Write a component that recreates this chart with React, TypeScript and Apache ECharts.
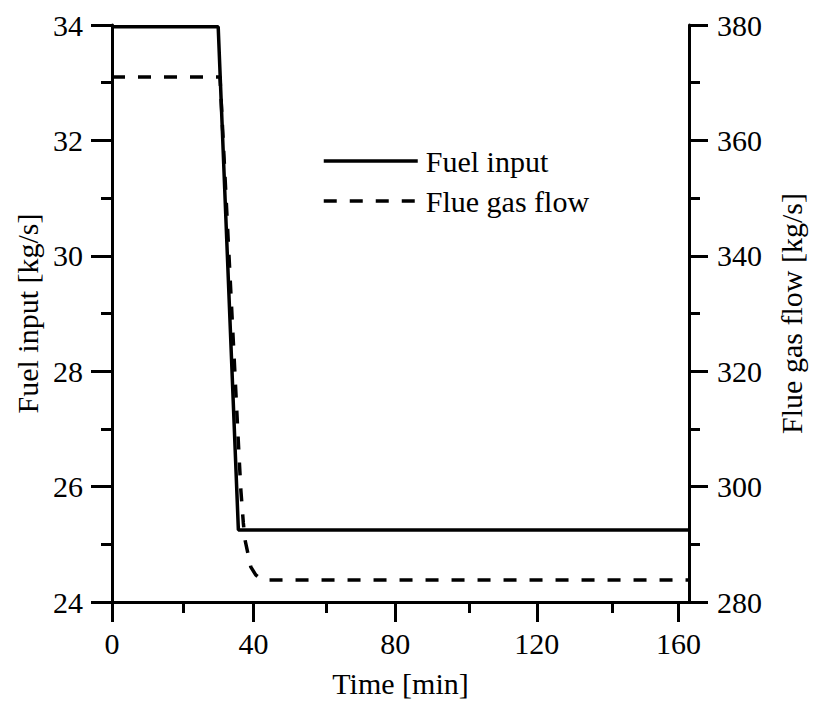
import React, { useEffect, useRef } from "react";
import * as echarts from "echarts";

const fuelTime = [0, 30.0, 35.7, 163];
const fuelInput = [33.97, 33.97, 25.25, 25.25];

const flueTime = [0, 30.5, 31.55, 32.97, 34.39, 35.8, 36.4, 37.1, 37.6, 38.5, 39.2, 40.6, 42.0, 43.5, 163];
const flueGas = [371, 371, 358.3, 341, 323.7, 306.4, 299.4, 293.7, 290.7, 288.1, 286.1, 284.7, 284.0, 283.8, 283.8];

const xMajorTicks = [0, 40, 80, 120, 160];
const xMinorTicks = [20, 60, 100, 140];

const FONT = "Liberation Serif";

export default function App() {
  const ref = useRef<HTMLDivElement>(null);
  useEffect(() => {
    document.body.style.margin = "0";
    const chart = echarts.init(ref.current!, null, { renderer: "svg" });
    const grid = { left: 112, right: 120, top: 25, bottom: 103 };
    const txt = { fontFamily: FONT, fontSize: 30, color: "#000" };
    const axisLine = { show: true, onZero: false, lineStyle: { color: "#000", width: 3 } };
    chart.setOption({
      animation: false,
      backgroundColor: "#fff",
      textStyle: { fontFamily: FONT },
      grid: [grid, grid],
      legend: {
        data: ["Fuel input", "Flue gas flow"],
        orient: "vertical",
        left: 317,
        top: 141,
        itemWidth: 94,
        itemHeight: 14,
        itemGap: 10,
        itemStyle: { opacity: 0 },
        lineStyle: { width: 3.5 },
        textStyle: { ...txt, padding: [0, 0, 0, 3] },
      },
      xAxis: [
        {
          type: "value",
          gridIndex: 0,
          min: 0,
          max: 163,
          interval: 40,
          name: "Time [min]",
          nameLocation: "middle",
          nameGap: 66,
          nameTextStyle: txt,
          axisLine,
          axisTick: { show: true, length: 20, lineStyle: { color: "#000", width: 3 }, customValues: xMajorTicks },
          axisLabel: { ...txt, margin: 26, customValues: xMajorTicks },
          splitLine: { show: false },
        },
        {
          type: "value",
          gridIndex: 1,
          min: 0,
          max: 163,
          axisLine: { show: false },
          axisTick: { show: true, length: 11, lineStyle: { color: "#000", width: 3 }, customValues: xMinorTicks },
          axisLabel: { show: false },
          splitLine: { show: false },
        },
      ],
      yAxis: [
        {
          type: "value",
          gridIndex: 0,
          position: "left",
          min: 24,
          max: 34,
          interval: 2,
          name: "Fuel input [kg/s]",
          nameLocation: "middle",
          nameRotate: 90,
          nameGap: 59,
          nameTextStyle: txt,
          axisLine,
          axisTick: { show: true, length: 21, lineStyle: { color: "#000", width: 3 } },
          minorTick: { show: true, splitNumber: 2, length: 11, lineStyle: { color: "#000", width: 3 } },
          axisLabel: { ...txt, margin: 29 },
          splitLine: { show: false },
          minorSplitLine: { show: false },
        },
        {
          type: "value",
          gridIndex: 0,
          position: "right",
          min: 280,
          max: 380,
          interval: 20,
          name: "Flue gas flow [kg/s]",
          nameLocation: "middle",
          nameRotate: 90,
          nameGap: 87,
          nameTextStyle: txt,
          axisLine,
          axisTick: { show: true, length: 19, lineStyle: { color: "#000", width: 3 } },
          minorTick: { show: true, splitNumber: 2, length: 11, lineStyle: { color: "#000", width: 3 } },
          axisLabel: { ...txt, margin: 28 },
          splitLine: { show: false },
          minorSplitLine: { show: false },
        },
        {
          type: "value",
          gridIndex: 1,
          show: false,
          min: 0,
          max: 1,
        },
      ],
      series: [
        {
          name: "Fuel input",
          type: "line",
          xAxisIndex: 0,
          yAxisIndex: 0,
          symbol: "none",
          lineStyle: { color: "#000", width: 3.5, type: "solid" },
          itemStyle: { color: "#000" },
          data: fuelTime.map((t, i) => [t, fuelInput[i]]),
        },
        {
          name: "Flue gas flow",
          type: "line",
          xAxisIndex: 0,
          yAxisIndex: 1,
          symbol: "none",
          lineStyle: { color: "#000", width: 3.5, type: [13, 13] },
          itemStyle: { color: "#000" },
          data: flueTime.map((t, i) => [t, flueGas[i]]),
        },
      ],
    });
    return () => chart.dispose();
  }, []);
  return <div ref={ref} style={{ width: 814, height: 705 }} />;
}
